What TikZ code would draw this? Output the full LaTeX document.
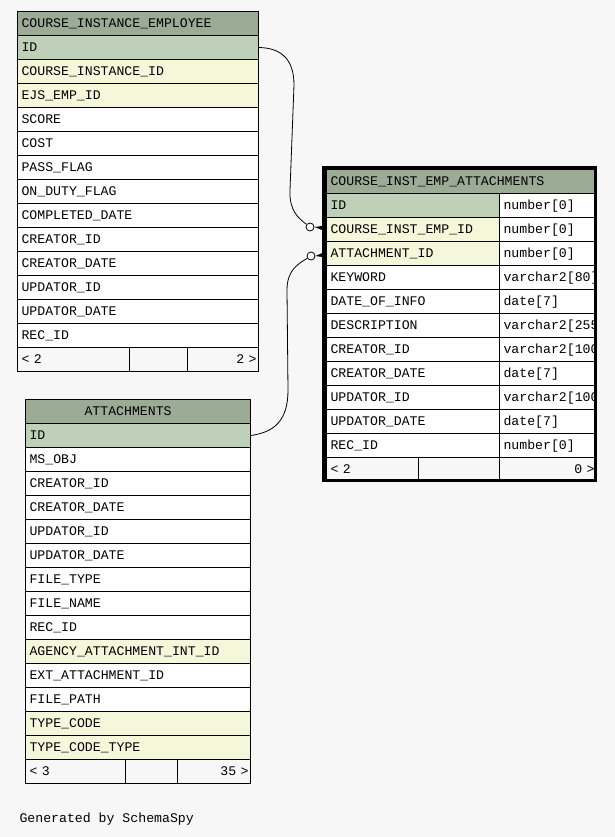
\documentclass[tikz,border=0pt]{standalone}
\usepackage{fontspec}
\newfontfamily\schemafont{Liberation Mono}
\definecolor{hdrgreen}{HTML}{9BAB96}
\definecolor{pkgreen}{HTML}{BED1B8}
\definecolor{fkyellow}{HTML}{F4F7DA}
\definecolor{pagegrey}{HTML}{F7F7F7}

\begin{document}
\begin{tikzpicture}[x=1pt, y=-1pt, font=\schemafont\fontsize{13.2}{15}\selectfont,
  cell/.style={draw, line width=1pt, rectangle, anchor=north west, minimum height=24pt, inner xsep=4pt, inner ysep=0pt, text height=10pt, text depth=2pt, align=left, fill=white},
  head/.style={cell, fill=hdrgreen},
  pkrow/.style={fill=pkgreen},
  fkrow/.style={fill=fkyellow},
  plainrow/.style={fill=white},
  footcell/.style={cell, fill=pagegrey},
  footright/.style={footcell, inner xsep=2pt, align=right},
  fkend/.style={circle, draw, line width=0.8pt, fill=white, minimum size=8pt, inner sep=0pt}]

\fill[pagegrey] (0,0) rectangle (615,837);
\useasboundingbox (0,0) rectangle (615,837);

% COURSE_INSTANCE_EMPLOYEE
\node[head, text width=233pt] (e1-0) at (17,11) {COURSE\_INSTANCE\_EMPLOYEE};
\foreach \nm/\sty [count=\i] in {ID/pkrow, COURSE\_INSTANCE\_ID/fkrow, EJS\_EMP\_ID/fkrow, SCORE/plainrow, COST/plainrow, PASS\_FLAG/plainrow, ON\_DUTY\_FLAG/plainrow, COMPLETED\_DATE/plainrow, CREATOR\_ID/plainrow, CREATOR\_DATE/plainrow, UPDATOR\_ID/plainrow, UPDATOR\_DATE/plainrow, REC\_ID/plainrow}
  \node[cell, \sty, text width=233pt] (e1-\i) at (17,11+24*\i) {\nm};
\node[footcell, text width=104pt] (e1-fl) at (17,347) {< 2};
\node[footcell, text width=50pt] (e1-fm) at (129,347) {};
\node[footright, text width=67pt] (e1-fr) at (187,347) {2 >};

% ATTACHMENTS
\node[head, text width=217pt] (a1-0) at (25,399) {\hspace*{55pt}ATTACHMENTS};
\foreach \nm/\sty [count=\i] in {ID/pkrow, MS\_OBJ/plainrow, CREATOR\_ID/plainrow, CREATOR\_DATE/plainrow, UPDATOR\_ID/plainrow, UPDATOR\_DATE/plainrow, FILE\_TYPE/plainrow, FILE\_NAME/plainrow, REC\_ID/plainrow, AGENCY\_ATTACHMENT\_INT\_ID/fkrow, EXT\_ATTACHMENT\_ID/plainrow, FILE\_PATH/plainrow, TYPE\_CODE/fkrow, TYPE\_CODE\_TYPE/fkrow}
  \node[cell, \sty, text width=217pt] (a1-\i) at (25,399+24*\i) {\nm};
\node[footcell, text width=92pt] (a1-fl) at (25,759) {< 3};
\node[footcell, text width=44pt] (a1-fm) at (125,759) {};
\node[footright, text width=69pt] (a1-fr) at (177,759) {35 >};

% COURSE_INST_EMP_ATTACHMENTS
\begin{scope}
\clip (326,169) rectangle (596,481);
\node[head, text width=262pt] (c3-0) at (326,169) {COURSE\_INST\_EMP\_ATTACHMENTS};
\foreach \nm/\ty/\sty [count=\i] in {ID/number[0]/pkrow, COURSE\_INST\_EMP\_ID/number[0]/fkrow, ATTACHMENT\_ID/number[0]/fkrow, KEYWORD/varchar2[80]/plainrow, DATE\_OF\_INFO/date[7]/plainrow, DESCRIPTION/varchar2[255]/plainrow, CREATOR\_ID/varchar2[100]/plainrow, CREATOR\_DATE/date[7]/plainrow, UPDATOR\_ID/varchar2[100]/plainrow, UPDATOR\_DATE/date[7]/plainrow, REC\_ID/number[0]/plainrow}
{
  \node[cell, \sty, text width=165pt] (c3-\i) at (326,169+24*\i) {\nm};
  \node[cell, text width=89pt] (t3-\i) at (499,169+24*\i) {\ty};
}
\node[footcell, text width=84pt] (c3-fl) at (326,457) {< 2};
\node[footcell, text width=73pt] (c3-fm) at (418,457) {};
\node[footright, text width=93pt] (c3-fr) at (499,457) {0 >};
\end{scope}

% relationships
\node[fkend] (fk1) at (310,227) {};
\node[fkend] (fk2) at (311,256) {};
\draw[line width=0.8pt] (e1-1.east) .. controls (280,48) and (294,58) .. (294,85) -- (290,190) .. controls (289,210) and (298,218) .. (fk1);
\draw[line width=0.8pt] (a1-1.east) .. controls (275,432) and (288,420) .. (288,390) -- (287,290) .. controls (287,270) and (298,264) .. (fk2);
\fill (fk1.east) -- ([yshift=4pt]c3-2.west) -- ([yshift=-2pt]c3-2.west) -- cycle;
\fill (fk2.east) -- ([yshift=2pt]c3-3.west) -- ([yshift=-4pt]c3-3.west) -- cycle;

\draw[line width=3.5pt] (324,167.5) rectangle (595.5,480.5);

\node[anchor=base west] (gen) at (16,822) {Generated by SchemaSpy};

\end{tikzpicture}
\end{document}
